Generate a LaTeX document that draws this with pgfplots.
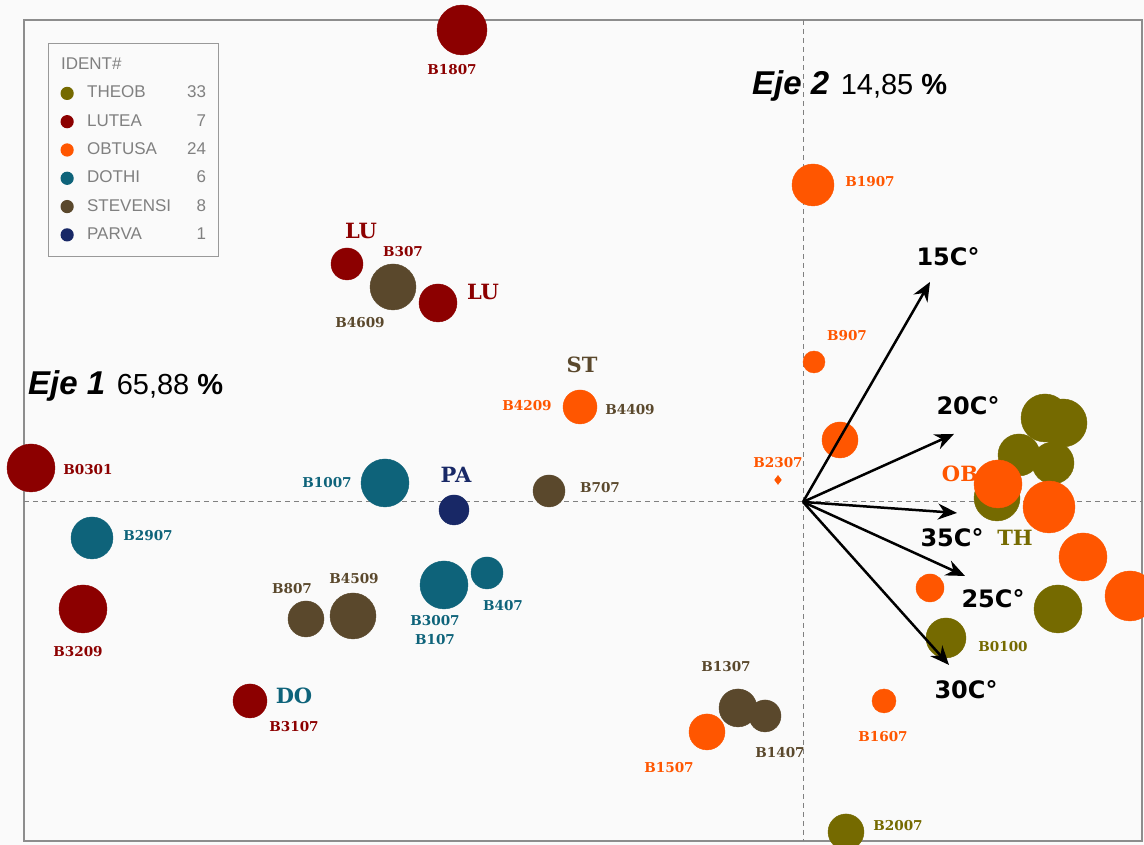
\documentclass[border=0pt]{standalone}
\usepackage{pgfplots}
\pgfplotsset{compat=1.18}
\usepackage{pgfplotstable}
\usetikzlibrary{arrows.meta}
\usepackage{fontspec}
\setmainfont{Liberation Sans}
\newfontfamily\slab{DejaVu Serif}
\newfontfamily\dvs{DejaVu Sans}

\definecolor{theob}{RGB}{117,106,0}
\definecolor{lutea}{RGB}{140,0,0}
\definecolor{obtusa}{RGB}{255,86,0}
\definecolor{dothi}{RGB}{14,99,122}
\definecolor{steven}{RGB}{90,72,44}
\definecolor{parva}{RGB}{24,40,102}
\definecolor{bgc}{RGB}{250,250,250}
\definecolor{legtext}{RGB}{128,128,128}

\pgfplotstableread{
x y r
2.42 0.84 24
2.60 0.79 24
2.16 0.47 21
2.50 0.39 21
1.94 0.04 23
2.55 -1.07 24
1.43 -1.36 20
0.43 -3.30 18
}\theobdata

\pgfplotstableread{
x y r
-3.41 4.72 25
-4.56 2.38 16
-3.65 1.99 19
-7.72 0.34 24
-7.20 -1.07 24
-5.53 -1.99 17
}\luteadata

\pgfplotstableread{
x y r
0.10 3.17 21
0.11 1.40 11
-2.23 0.95 17
0.37 0.62 18
1.95 0.18 24
2.46 -0.05 26
2.80 -0.55 24
3.27 -0.94 25
1.27 -0.86 14
0.81 -1.99 12
-0.96 -2.30 18
}\obtusadata

\pgfplotstableread{
x y r
-4.18 0.19 24
-7.11 -0.36 21
-3.59 -0.83 24
-3.16 -0.71 16
}\dothidata

\pgfplotstableread{
x y r
-4.10 2.15 23
-2.54 0.11 16
-4.97 -1.17 18
-4.50 -1.14 23
-0.65 -2.06 19
-0.38 -2.14 16
}\stevendata

\pgfplotstableread{
x y r
-3.49 -0.08 15
}\parvadata

\pgfplotsset{
  bubble/.style={scatter, only marks, mark=*, forget plot,
    point meta=\thisrow{r},
    visualization depends on={\thisrow{r}\as\rad},
    scatter/@pre marker code/.code={\scope[mark size=\rad pt, color=#1]},
    scatter/@post marker code/.code={\endscope}},
  vec/.style={black, line width=2.5pt, forget plot,
    -{Stealth[length=19pt, width=16pt]}},
}

\tikzset{
  lbl/.style={font=\slab\bfseries\fontsize{13.6}{14}\selectfont, inner sep=0pt},
  grp/.style={font=\slab\bfseries\fontsize{21}{22}\selectfont, inner sep=0pt},
  tmp/.style={font=\dvs\bfseries\fontsize{24}{25}\selectfont, inner sep=0pt, text=black},
}

\begin{document}
\begin{tikzpicture}
\begin{axis}[
  scale only axis, width=1144pt, height=845pt,
  xmin=-8.03, xmax=3.41, ymin=-3.43, ymax=5.02,
  axis lines=none, xtick=\empty, ytick=\empty,
  clip marker paths=true,
  axis background/.style={fill=bgc},
  legend style={at={(axis cs:-7.55,4.59)}, anchor=north west,
    draw=legtext!80, line width=1.2pt, fill=bgc,
    font=\fontsize{17}{20}\selectfont, text=legtext,
    nodes={text height=12pt, text depth=3pt, inner sep=2pt},
    /tikz/every odd column/.append style={column sep=12pt},
    row sep=9.3pt, inner xsep=10pt, inner ysep=12pt},
  legend cell align=left,
]
% frame and dashed axes
\draw[legtext!90, line width=1.6pt] (axis cs:-7.79,4.82) rectangle (axis cs:3.39,-3.39);
\draw[gray, line width=1pt, dash pattern=on 5pt off 4pt] (axis cs:0,4.82) -- (axis cs:0,-3.39);
\draw[gray, line width=1pt, dash pattern=on 5pt off 4pt] (axis cs:-7.79,0) -- (axis cs:3.39,0);

% legend
\addlegendimage{empty legend}
\addlegendentry{\hspace*{-26pt}IDENT\#}
\addlegendimage{only marks, mark=*, mark size=6pt, mark options={draw=theob, fill=theob}}
\addlegendentry{\makebox[97pt][l]{THEOB}\makebox[22pt][r]{33}}
\addlegendimage{only marks, mark=*, mark size=6pt, mark options={draw=lutea, fill=lutea}}
\addlegendentry{\makebox[97pt][l]{LUTEA}\makebox[22pt][r]{7}}
\addlegendimage{only marks, mark=*, mark size=6pt, mark options={draw=obtusa, fill=obtusa}}
\addlegendentry{\makebox[97pt][l]{OBTUSA}\makebox[22pt][r]{24}}
\addlegendimage{only marks, mark=*, mark size=6pt, mark options={draw=dothi, fill=dothi}}
\addlegendentry{\makebox[97pt][l]{DOTHI}\makebox[22pt][r]{6}}
\addlegendimage{only marks, mark=*, mark size=6pt, mark options={draw=steven, fill=steven}}
\addlegendentry{\makebox[97pt][l]{STEVENSI}\makebox[22pt][r]{8}}
\addlegendimage{only marks, mark=*, mark size=6pt, mark options={draw=parva, fill=parva}}
\addlegendentry{\makebox[97pt][l]{PARVA}\makebox[22pt][r]{1}}

% bubbles
\addplot[bubble=theob] table[x=x, y=y] {\theobdata};
\addplot[bubble=lutea] table[x=x, y=y] {\luteadata};
\addplot[bubble=dothi] table[x=x, y=y] {\dothidata};
\addplot[bubble=steven] table[x=x, y=y] {\stevendata};
\addplot[bubble=parva] table[x=x, y=y] {\parvadata};
\addplot[bubble=obtusa] table[x=x, y=y] {\obtusadata};
\addplot[only marks, mark=diamond*, mark size=4.5pt, mark options={draw=obtusa, fill=obtusa}, forget plot] coordinates {(-0.25,0.22)};

% vectors
\addplot[vec] coordinates {(0,0) (1.27,2.20)};
\addplot[vec] coordinates {(0,0) (1.51,0.68)};
\addplot[vec] coordinates {(0,0) (1.54,-0.11)};
\addplot[vec] coordinates {(0,0) (1.62,-0.74)};
\addplot[vec] coordinates {(0,0) (1.46,-1.63)};

\node[tmp] at (axis cs:1.45,2.45) {15C°};
\node[tmp] at (axis cs:1.65,0.96) {20C°};
\node[tmp] at (axis cs:1.49,-0.36) {35C°};
\node[tmp] at (axis cs:1.90,-0.97) {25C°};
\node[tmp] at (axis cs:1.63,-1.88) {30C°};

% axis titles
\node[anchor=base west, inner sep=0pt] at (axis cs:-0.51,4.07)
  {\fontsize{33}{35}\selectfont\bfseries\itshape Eje 2\/\hspace{0.35em}\fontsize{29}{31}\selectfont\mdseries\upshape 14,85 \bfseries\%};
\node[anchor=base west, inner sep=0pt] at (axis cs:-7.75,1.07)
  {\fontsize{33}{35}\selectfont\bfseries\itshape Eje 1\/\hspace{0.35em}\fontsize{29}{31}\selectfont\mdseries\upshape 65,88 \bfseries\%};

% group labels
\node[grp, text=lutea] at (axis cs:-4.42,2.71) {LU};
\node[grp, text=lutea] at (axis cs:-3.20,2.10) {LU};
\node[grp, text=steven] at (axis cs:-2.21,1.37) {ST};
\node[grp, text=parva] at (axis cs:-3.47,0.27) {PA};
\node[grp, text=dothi] at (axis cs:-5.09,-1.94) {DO};
\node[grp, text=obtusa] at (axis cs:1.57,0.28) {OB};
\node[grp, text=theob] at (axis cs:2.12,-0.36) {TH};

% point labels
\node[lbl, text=lutea] at (axis cs:-3.51,4.32) {B1807};
\node[lbl, text=obtusa] at (axis cs:0.67,3.20) {B1907};
\node[lbl, text=lutea] at (axis cs:-4.00,2.50) {B307};
\node[lbl, text=steven] at (axis cs:-4.43,1.79) {B4609};
\node[lbl, text=obtusa] at (axis cs:-2.76,0.96) {B4209};
\node[lbl, text=steven] at (axis cs:-1.73,0.92) {B4409};
\node[lbl, text=steven] at (axis cs:-2.03,0.14) {B707};
\node[lbl, text=obtusa] at (axis cs:0.44,1.66) {B907};
\node[lbl, text=obtusa] at (axis cs:-0.25,0.39) {B2307};
\node[lbl, text=lutea] at (axis cs:-7.15,0.32) {B0301};
\node[lbl, text=dothi] at (axis cs:-4.76,0.19) {B1007};
\node[lbl, text=dothi] at (axis cs:-6.55,-0.34) {B2907};
\node[lbl, text=lutea] at (axis cs:-7.25,-1.50) {B3209};
\node[lbl, text=steven] at (axis cs:-5.11,-0.87) {B807};
\node[lbl, text=steven] at (axis cs:-4.49,-0.77) {B4509};
\node[lbl, text=dothi] at (axis cs:-3.68,-1.19) {B3007};
\node[lbl, text=dothi] at (axis cs:-3.68,-1.38) {B107};
\node[lbl, text=dothi] at (axis cs:-3.00,-1.04) {B407};
\node[lbl, text=lutea] at (axis cs:-5.09,-2.25) {B3107};
\node[lbl, text=steven] at (axis cs:-0.77,-1.65) {B1307};
\node[lbl, text=steven] at (axis cs:-0.23,-2.51) {B1407};
\node[lbl, text=obtusa] at (axis cs:-1.34,-2.66) {B1507};
\node[lbl, text=obtusa] at (axis cs:0.80,-2.35) {B1607};
\node[lbl, text=theob] at (axis cs:2.00,-1.45) {B0100};
\node[lbl, text=theob] at (axis cs:0.95,-3.24) {B2007};
\end{axis}
\end{tikzpicture}
\end{document}
